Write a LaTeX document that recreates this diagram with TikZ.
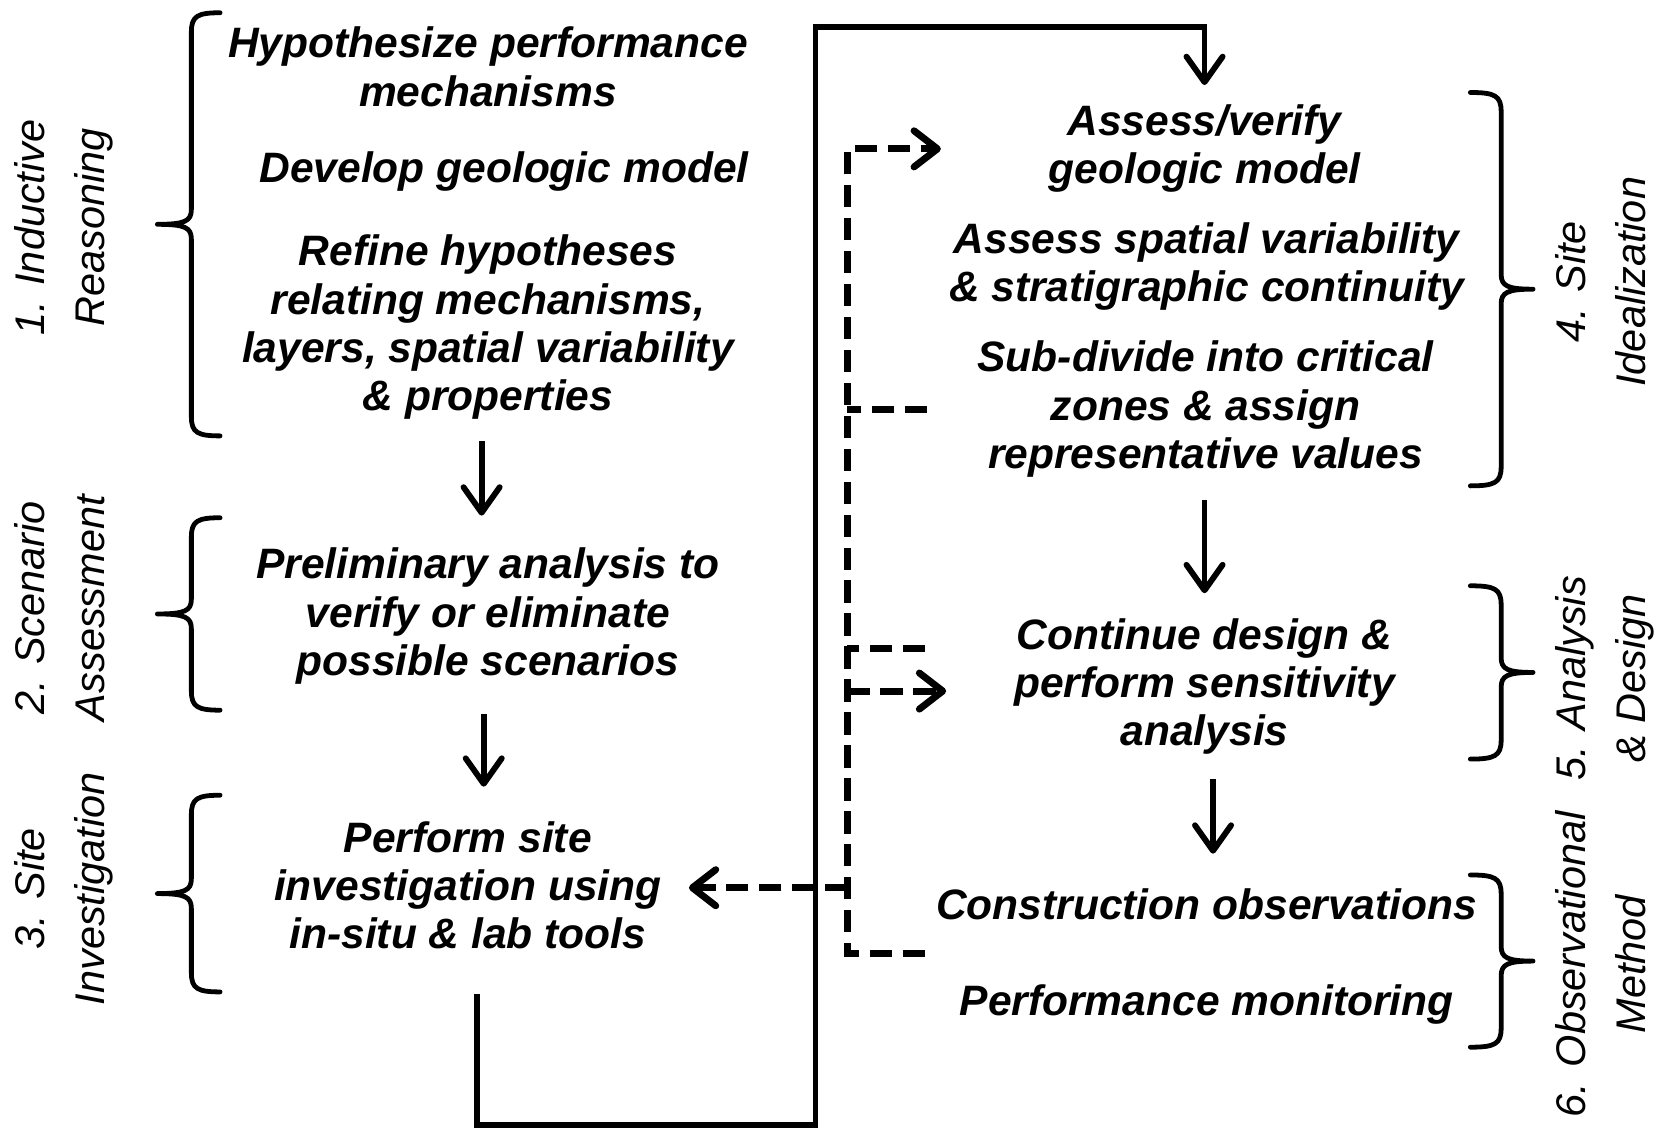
\documentclass[tikz,border=0pt]{standalone}
\usepackage{fontspec}
\setmainfont{Liberation Sans}
\usetikzlibrary{arrows.meta}
\newcommand{\leftbrak}[3]{%
 \draw[brak] ({#1+27},#2) .. controls ({#1+6},#2) and (#1,{#2+3}) .. (#1,{#2+18})
  -- (#1,{(#2+#3)/2-14}) .. controls (#1,{(#2+#3)/2-3}) and ({#1-6},{(#2+#3)/2}) .. ({#1-32},{(#2+#3)/2})
  .. controls ({#1-6},{(#2+#3)/2}) and (#1,{(#2+#3)/2+3}) .. (#1,{(#2+#3)/2+14})
  -- (#1,{#3-18}) .. controls (#1,{#3-3}) and ({#1+6},#3) .. ({#1+27},#3);}
\newcommand{\rightbrak}[3]{%
 \draw[brak] ({#1-29},#2) .. controls ({#1-6},#2) and (#1,{#2+3}) .. (#1,{#2+18})
  -- (#1,{(#2+#3)/2-14}) .. controls (#1,{(#2+#3)/2-3}) and ({#1+6},{(#2+#3)/2}) .. ({#1+30},{(#2+#3)/2})
  .. controls ({#1+6},{(#2+#3)/2}) and (#1,{(#2+#3)/2+3}) .. (#1,{(#2+#3)/2+14})
  -- (#1,{#3-18}) .. controls (#1,{#3-3}) and ({#1-6},#3) .. ({#1-29},#3);}
\begin{document}
\begin{tikzpicture}[x=1pt,y=-1pt,
  mt/.style={align=center, inner sep=0pt, font=\fontsize{40}{45.5}\selectfont\bfseries\itshape},
  lab/.style={align=center, inner sep=0pt, rotate=90, font=\fontsize{39}{57}\selectfont\itshape},
  flow/.style={line width=5.5pt, line join=miter, -{Straight Barb[length=24pt,width=34pt,round]}},
  dsh/.style={line width=6.5pt, dash pattern=on 21pt off 10pt},
  dsharrow/.style={dsh, -{Straight Barb[length=22pt,width=34pt,round]}},
  brak/.style={line width=4.5pt, line join=round, line cap=round}]
\useasboundingbox (0,0) rectangle (1568,1063);

% main texts
\node[mt] (A) at (459,68) {\strut Hypothesize performance\\mechanisms\strut};
\node[mt] (B) at (474,163) {\strut Develop geologic model\strut};
\node[mt] (C) at (459,309) {\strut Refine hypotheses\\relating mechanisms,\\layers, spatial variability\\\& properties\strut};
\node[mt] (D) at (459,581) {\strut Preliminary analysis to\\verify or eliminate\\possible scenarios\strut};
\node[mt] (E) at (440,838) {\strut Perform site\\investigation using\\in-situ \& lab tools\strut};
\node[mt] (F) at (1133,141) {\strut Assess/verify\\geologic model\strut};
\node[mt] (G) at (1135,252) {\strut Assess spatial variability\\\& stratigraphic continuity\strut};
\node[mt] (H) at (1134,386) {\strut Sub-divide into critical\\zones \& assign\\representative values\strut};
\node[mt] (I) at (1133,647) {\strut Continue design \&\\perform sensitivity\\analysis\strut};
\node[mt] (J) at (1135,856) {\strut Construction observations\strut};
\node[mt] (K) at (1135,946) {\strut Performance monitoring\strut};

% stage labels
\node[lab] (L1) at (58.5,214) {\strut 1. Inductive\\Reasoning\strut};
\node[lab] (L2) at (58.5,572) {\strut 2. Scenario\\Assessment\strut};
\node[lab] (L3) at (58.5,836) {\strut 3. Site\\Investigation\strut};
\node[lab] (L4) at (1508,265) {\strut 4. Site\\Idealization\strut};
\node[lab] (L5) at (1508,638) {\strut 5. Analysis\\\& Design\strut};
\node[lab] (L6) at (1508,907) {\strut 6. Observational\\Method\strut};

% brackets
\leftbrak{180}{12}{410}
\leftbrak{180}{487}{668}
\leftbrak{180}{748}{933}
\rightbrak{1412}{87}{457}
\rightbrak{1412}{551}{714}
\rightbrak{1412}{823}{985}

% connector coordinates
\coordinate (c1a) at (453,415); \coordinate (c1b) at (453,485);
\coordinate (c2a) at (455,672); \coordinate (c2b) at (455,740);
\coordinate (eOut) at (449,935);
\coordinate (lp1) at (449,1058); \coordinate (lp2) at (767,1058);
\coordinate (lp3) at (767,25); \coordinate (lp4) at (1133,25);
\coordinate (fIn) at (1133,80);
\coordinate (c4a) at (1133,470); \coordinate (c4b) at (1133,558);
\coordinate (c5a) at (1141,733); \coordinate (c5b) at (1141,803);
% dashed bus
\coordinate (bT) at (797,140); \coordinate (bB) at (797,897);
\coordinate (fDash) at (885,140);
\coordinate (hOut) at (872,385); \coordinate (hBus) at (797,385);
\coordinate (iOut) at (870,610); \coordinate (iBus) at (797,610);
\coordinate (iBus2) at (797,650); \coordinate (iIn) at (890,650);
\coordinate (jOut) at (870,897);
\coordinate (eBus) at (797,835); \coordinate (eIn) at (648,835);

% solid flow
\draw[flow] (c1a) -- (c1b);
\draw[flow] (c2a) -- (c2b);
\draw[flow] (eOut) -- (lp1) -- (lp2) -- (lp3) -- (lp4) -- (fIn);
\draw[flow] (c4a) -- (c4b);
\draw[flow] (c5a) -- (c5b);

% dashed feedback
\draw[dsharrow] (jOut) -- (bB) -- (bT) -- (fDash);
\draw[dsh] (hOut) -- (hBus);
\draw[dsh] (iOut) -- (iBus);
\draw[dsharrow] (iBus2) -- (iIn);
\draw[dsharrow] (eBus) -- (eIn);
\end{tikzpicture}
\end{document}
